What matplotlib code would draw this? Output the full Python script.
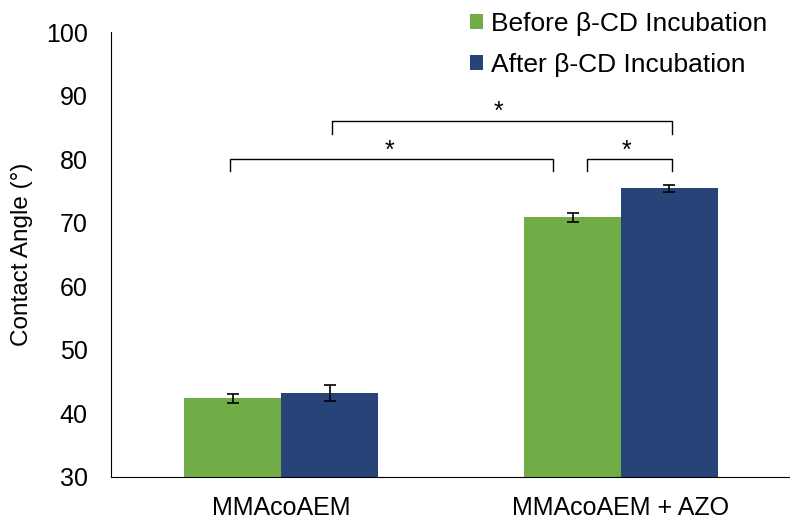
import numpy as np
import matplotlib.pyplot as plt

plt.rcParams['font.family'] = ['Liberation Sans', 'DejaVu Sans']

categories = ['MMAcoAEM', 'MMAcoAEM + AZO']
before = [42.4, 70.9]
before_err = [0.7, 0.7]
after = [43.2, 75.4]
after_err = [1.2, 0.6]

fig = plt.figure(figsize=(7.9, 5.2), dpi=100)
ax = fig.add_axes([0.141, 0.083, 0.86, 0.855])

x = np.arange(len(categories))
w = 0.285
ax.bar(x - w/2, before, w, yerr=before_err, color='#70AD47', capsize=4,
       error_kw=dict(elinewidth=1.2, capthick=1.2), label='Before β-CD Incubation', zorder=2)
ax.bar(x + w/2, after, w, yerr=after_err, color='#264478', capsize=4,
       error_kw=dict(elinewidth=1.2, capthick=1.2), label='After β-CD Incubation', zorder=2)

ax.set_xlim(-0.5, 1.5)
ax.set_ylim(30, 100)
ax.set_yticks(np.arange(30, 101, 10))
ax.set_xticks(x)
ax.set_xticklabels(categories, fontsize=18)
ax.tick_params(axis='y', labelsize=18, length=0, pad=17)
ax.tick_params(axis='x', length=0, pad=14)
ax.set_ylabel('Contact Angle (°)', fontsize=17.5, labelpad=9)
for s in ['top', 'right']:
    ax.spines[s].set_visible(False)

# significance brackets
def bracket(x1, x2, y, h, star_x):
    ax.plot([x1, x1, x2, x2], [y - h, y, y, y - h], color='black', lw=1)
    ax.text(star_x, y - 0.5, '*', ha='center', va='bottom', fontsize=18)

bracket(-0.152, 0.799, 80.0, 1.9, 0.32)
bracket(0.901, 1.149, 80.0, 1.9, 1.015)
bracket(0.149, 1.149, 86.05, 2.0, 0.64)

ax.legend(loc='upper right', bbox_to_anchor=(1.0, 1.1), frameon=False, fontsize=19,
          handlelength=0.5, handleheight=0.5, handletextpad=0.3, labelspacing=0.65)

fig.savefig('out.png', dpi=100)
